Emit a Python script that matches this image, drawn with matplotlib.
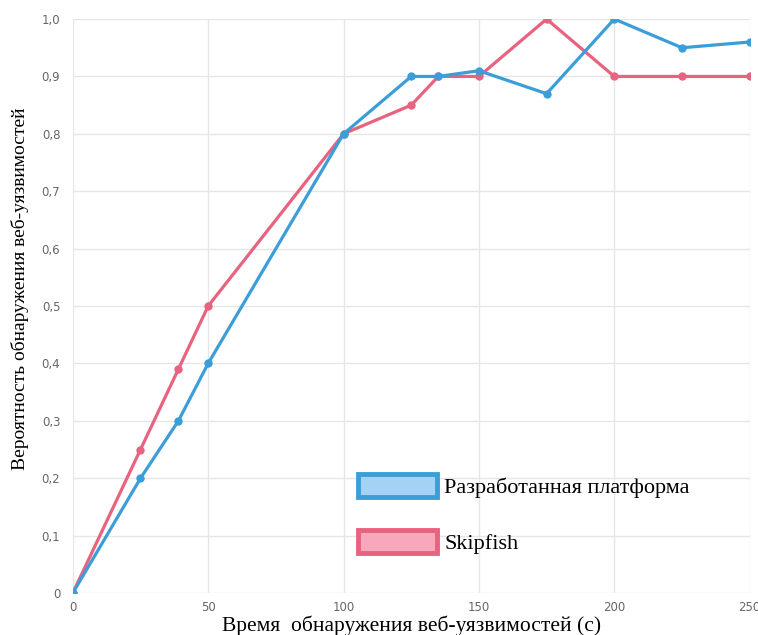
import matplotlib.pyplot as plt
from matplotlib.patches import Patch
from matplotlib.ticker import FixedLocator

# data
x_platform = [0, 25, 39, 50, 100, 125, 135, 150, 175, 200, 225, 250]
y_platform = [0, 0.20, 0.30, 0.40, 0.80, 0.90, 0.90, 0.91, 0.87, 1.00, 0.95, 0.96]
x_skipfish = [0, 25, 39, 50, 100, 125, 135, 150, 175, 200, 225, 250]
y_skipfish = [0, 0.25, 0.39, 0.50, 0.80, 0.85, 0.90, 0.90, 1.00, 0.90, 0.90, 0.90]

x_ticks = [0, 50, 100, 150, 200, 250]
y_ticks = [0, 0.1, 0.2, 0.3, 0.4, 0.5, 0.6, 0.7, 0.8, 0.9, 1.0]
y_ticklabels = ["0", "0,1", "0,2", "0,3", "0,4", "0,5", "0,6", "0,7", "0,8", "0,9", "1,0"]

names = ["Разработанная платформа", "Skipfish"]
blue = "#3b9ed8"
red = "#e8637f"

fig = plt.figure(figsize=(7.58, 6.35), dpi=100)
ax = fig.add_axes([0.096, 0.066, 0.893, 0.904])

ax.plot(x_platform, y_platform, color=blue, lw=2.3, marker="o", ms=5, zorder=3)
ax.plot(x_skipfish, y_skipfish, color=red, lw=2.3, marker="o", ms=5, zorder=2)

ax.set_xlim(0, 250)
ax.set_ylim(0, 1.0)
ax.xaxis.set_major_locator(FixedLocator(x_ticks))
ax.set_yticks(y_ticks)
ax.set_yticklabels(y_ticklabels)
ax.tick_params(length=0, labelsize=8.5, labelcolor="#666666", pad=9)
ax.tick_params(axis="x", pad=6)
for t in ax.get_xticklabels() + ax.get_yticklabels():
    t.set_fontfamily("DejaVu Sans")
ax.grid(True, color="#e6e6e6", lw=1)
for s in ax.spines.values():
    s.set_visible(False)
ax.set_axisbelow(True)

ax.set_xlabel("Время  обнаружения веб-уязвимостей (с)", family="Liberation Serif",
              fontsize=15.5)
ax.xaxis.set_label_coords(0.5, -0.039)
ax.set_ylabel("Вероятность обнаружения веб-уязвимостей", family="Liberation Serif",
              fontsize=14)
ax.yaxis.set_label_coords(-0.064, 0.53)

handles = [Patch(facecolor="#a3d2f5", edgecolor=blue, lw=3.5),
           Patch(facecolor="#f7a9bb", edgecolor=red, lw=3.5)]
fig.legend(handles, names, loc="upper left", bbox_to_anchor=(0.472, 0.254),
           frameon=False, borderpad=0, borderaxespad=0, handlelength=3.55,
           handleheight=1.25, labelspacing=1.43, handletextpad=0.35,
           prop={"family": "Liberation Serif", "size": 16})

fig.savefig("out.png", dpi=100)
